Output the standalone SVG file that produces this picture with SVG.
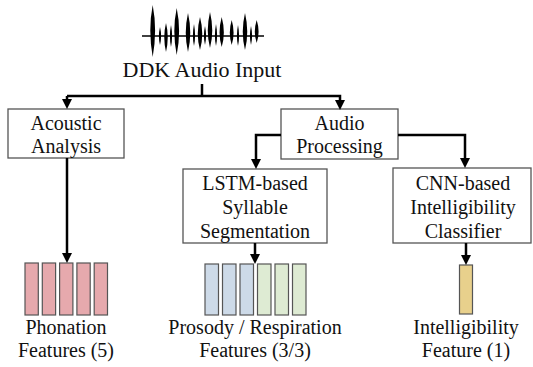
<svg xmlns="http://www.w3.org/2000/svg" width="533" height="367" viewBox="0 0 533 367">
<defs>
<marker id="ah" viewBox="0 0 10 10" refX="5" refY="5" markerWidth="10" markerHeight="10" markerUnits="userSpaceOnUse" orient="auto">
<path d="M0,0 L10,5 L0,10 z" fill="#000"/>
</marker>
</defs>
<g id="input">
<line x1="142" y1="36" x2="264" y2="36" stroke="#000" stroke-width="1.5"/>
<path fill="#000" d="M152.7,5 Q157.5,30 152.7,57 Q147.9,30 152.7,5 Z M166,23 Q169.5,37 166,52 Q162.5,37 166,23 Z M176.7,8 Q181.5,31 176.7,55 Q171.9,31 176.7,8 Z M188,13 Q192.5,33 188,52 Q183.5,33 188,13 Z M200,17 Q204.5,34 200,50 Q195.5,34 200,17 Z M210,12 Q214.5,31 210,48 Q205.5,31 210,12 Z M221.7,17 Q226,33 221.7,47 Q217.4,33 221.7,17 Z M231.7,20 Q235.5,33 231.7,45 Q227.9,33 231.7,20 Z M245,13 Q249.5,32 245,50 Q240.5,32 245,13 Z M256.7,20 Q260.5,32 256.7,43 Q252.9,32 256.7,20 Z M160,27 Q162.2,36 160,45 Q157.8,36 160,27 Z M171,25 Q173.2,36 171,47 Q168.8,36 171,25 Z M194,24 Q196.2,36 194,46 Q191.8,36 194,24 Z M205,26 Q207.2,36 205,45 Q202.8,36 205,26 Z M216,24 Q218.2,36 216,46 Q213.8,36 216,24 Z M238,25 Q240.2,36 238,46 Q235.8,36 238,25 Z M251,26 Q253.2,36 251,45 Q248.8,36 251,26 Z"/>
<text x="202" y="77" font-family="Liberation Serif" font-size="22" fill="#111" text-anchor="middle">DDK Audio Input</text>
</g>
<g id="acoustic">
<rect x="8" y="109" width="116" height="49" fill="#fff" stroke="#555" stroke-width="1.3"/>
<text x="66" y="129.5" font-family="Liberation Serif" font-size="20" fill="#111" text-anchor="middle">Acoustic</text>
<text x="66" y="153" font-family="Liberation Serif" font-size="20" fill="#111" text-anchor="middle">Analysis</text>
</g>
<g id="audio">
<rect x="281" y="109" width="117" height="50" fill="#fff" stroke="#555" stroke-width="1.3"/>
<text x="339.5" y="129.5" font-family="Liberation Serif" font-size="20" fill="#111" text-anchor="middle">Audio</text>
<text x="339.5" y="153" font-family="Liberation Serif" font-size="20" fill="#111" text-anchor="middle">Processing</text>
</g>
<g id="lstm">
<rect x="183" y="169" width="144" height="74" fill="#fff" stroke="#555" stroke-width="1.3"/>
<text x="255" y="190" font-family="Liberation Serif" font-size="20" fill="#111" text-anchor="middle">LSTM-based</text>
<text x="255" y="213.5" font-family="Liberation Serif" font-size="20" fill="#111" text-anchor="middle">Syllable</text>
<text x="255" y="237.5" font-family="Liberation Serif" font-size="20" fill="#111" text-anchor="middle">Segmentation</text>
</g>
<g id="cnn">
<rect x="393" y="168" width="138" height="75" fill="#fff" stroke="#555" stroke-width="1.3"/>
<text x="463" y="190" font-family="Liberation Serif" font-size="20" fill="#111" text-anchor="middle">CNN-based</text>
<text x="463" y="213.5" font-family="Liberation Serif" font-size="20" fill="#111" text-anchor="middle">Intelligibility</text>
<text x="463" y="237.5" font-family="Liberation Serif" font-size="20" fill="#111" text-anchor="middle">Classifier</text>
</g>
<g id="phonation">
<g fill="#E6A9AD" stroke="#555" stroke-width="1.2">
<rect x="25" y="263" width="13.3" height="52"/>
<rect x="42.3" y="263" width="13.3" height="52"/>
<rect x="59.6" y="263" width="13.3" height="52"/>
<rect x="76.9" y="263" width="13.3" height="52"/>
<rect x="94.2" y="263" width="13.3" height="52"/>
</g>
<text x="66" y="334" font-family="Liberation Serif" font-size="20" fill="#111" text-anchor="middle">Phonation</text>
<text x="66" y="357" font-family="Liberation Serif" font-size="20" fill="#111" text-anchor="middle">Features (5)</text>
</g>
<g id="prosody">
<g fill="#CDDAE8" stroke="#555" stroke-width="1.2">
<rect x="205" y="264" width="13.5" height="51"/>
<rect x="222.5" y="264" width="13.5" height="51"/>
<rect x="240" y="264" width="13.5" height="51"/>
</g>
<g fill="#DEEBD3" stroke="#555" stroke-width="1.2">
<rect x="257.5" y="264" width="13.5" height="51"/>
<rect x="275" y="264" width="13.5" height="51"/>
<rect x="292.5" y="264" width="13.5" height="51"/>
</g>
<text x="255" y="334" font-family="Liberation Serif" font-size="20" fill="#111" text-anchor="middle">Prosody / Respiration</text>
<text x="255" y="357" font-family="Liberation Serif" font-size="20" fill="#111" text-anchor="middle">Features (3/3)</text>
</g>
<g id="intelligibility">
<rect x="459.5" y="265" width="13" height="49" fill="#E8D08C" stroke="#555" stroke-width="1.2"/>
<text x="466" y="334" font-family="Liberation Serif" font-size="20" fill="#111" text-anchor="middle">Intelligibility</text>
<text x="466" y="357" font-family="Liberation Serif" font-size="20" fill="#111" text-anchor="middle">Feature (1)</text>
</g>
<g id="connectors" fill="none" stroke="#000" stroke-width="2.5">
<line x1="202" y1="84" x2="202" y2="96"/>
<polyline points="67,96 340,96 340,105" marker-end="url(#ah)"/>
<line x1="67" y1="96" x2="67" y2="104" marker-end="url(#ah)"/>
<polyline points="281,135 256,135 256,164" marker-end="url(#ah)"/>
<polyline points="398,135 465,135 465,163" marker-end="url(#ah)"/>
<line x1="67" y1="158" x2="67" y2="258" marker-end="url(#ah)"/>
<line x1="255" y1="243" x2="255" y2="259" marker-end="url(#ah)"/>
<line x1="466" y1="243" x2="466" y2="260" marker-end="url(#ah)"/>
</g>
</svg>
